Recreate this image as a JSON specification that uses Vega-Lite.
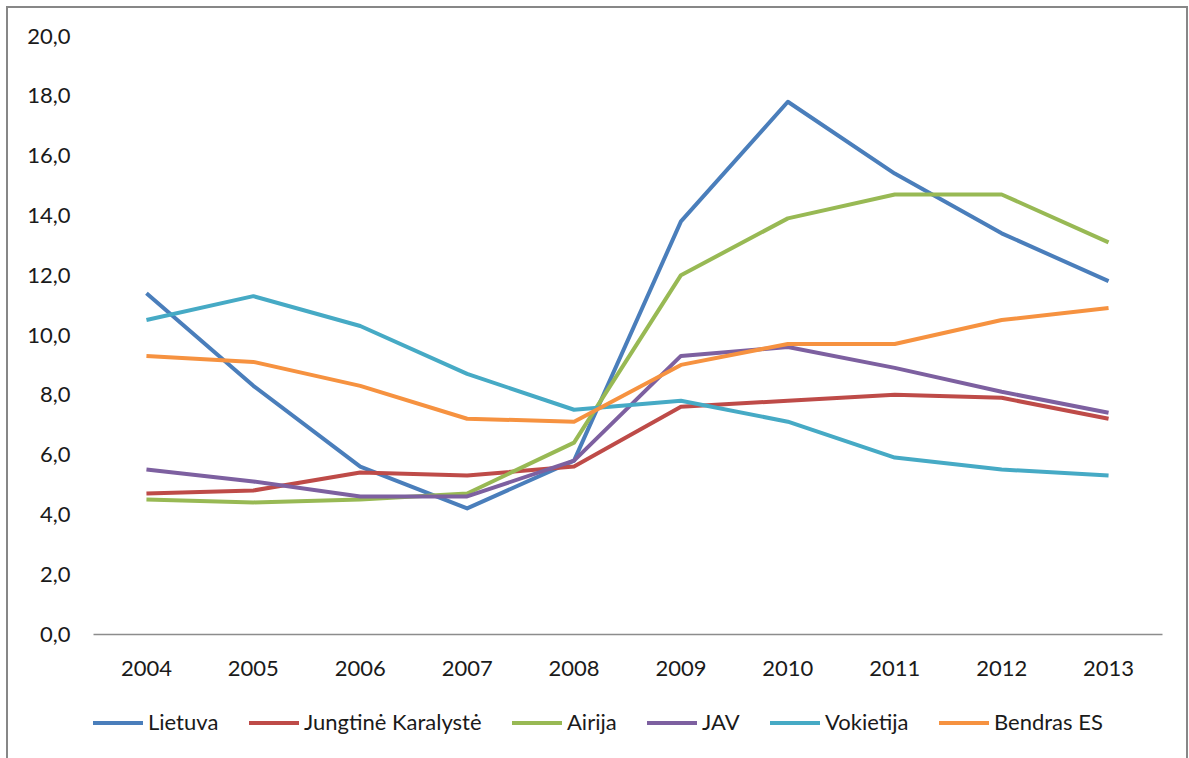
{
  "$schema": "https://vega.github.io/schema/vega-lite/v6.json",
  "width": 1180,
  "height": 760,
  "autosize": {"type": "none"},
  "padding": {"left": 7, "top": 7, "right": 2, "bottom": 0},
  "background": "white",
  "config": {
    "view": {"stroke": "#878787", "strokeWidth": 2},
    "font": "Lato"
  },
  "data": {
    "values": [
      {"metai": "2004", "salis": "Lietuva", "v": 11.4},
      {"metai": "2005", "salis": "Lietuva", "v": 8.3},
      {"metai": "2006", "salis": "Lietuva", "v": 5.6},
      {"metai": "2007", "salis": "Lietuva", "v": 4.2},
      {"metai": "2008", "salis": "Lietuva", "v": 5.8},
      {"metai": "2009", "salis": "Lietuva", "v": 13.8},
      {"metai": "2010", "salis": "Lietuva", "v": 17.8},
      {"metai": "2011", "salis": "Lietuva", "v": 15.4},
      {"metai": "2012", "salis": "Lietuva", "v": 13.4},
      {"metai": "2013", "salis": "Lietuva", "v": 11.8},
      {"metai": "2004", "salis": "Jungtinė Karalystė", "v": 4.7},
      {"metai": "2005", "salis": "Jungtinė Karalystė", "v": 4.8},
      {"metai": "2006", "salis": "Jungtinė Karalystė", "v": 5.4},
      {"metai": "2007", "salis": "Jungtinė Karalystė", "v": 5.3},
      {"metai": "2008", "salis": "Jungtinė Karalystė", "v": 5.6},
      {"metai": "2009", "salis": "Jungtinė Karalystė", "v": 7.6},
      {"metai": "2010", "salis": "Jungtinė Karalystė", "v": 7.8},
      {"metai": "2011", "salis": "Jungtinė Karalystė", "v": 8.0},
      {"metai": "2012", "salis": "Jungtinė Karalystė", "v": 7.9},
      {"metai": "2013", "salis": "Jungtinė Karalystė", "v": 7.2},
      {"metai": "2004", "salis": "Airija", "v": 4.5},
      {"metai": "2005", "salis": "Airija", "v": 4.4},
      {"metai": "2006", "salis": "Airija", "v": 4.5},
      {"metai": "2007", "salis": "Airija", "v": 4.7},
      {"metai": "2008", "salis": "Airija", "v": 6.4},
      {"metai": "2009", "salis": "Airija", "v": 12.0},
      {"metai": "2010", "salis": "Airija", "v": 13.9},
      {"metai": "2011", "salis": "Airija", "v": 14.7},
      {"metai": "2012", "salis": "Airija", "v": 14.7},
      {"metai": "2013", "salis": "Airija", "v": 13.1},
      {"metai": "2004", "salis": "JAV", "v": 5.5},
      {"metai": "2005", "salis": "JAV", "v": 5.1},
      {"metai": "2006", "salis": "JAV", "v": 4.6},
      {"metai": "2007", "salis": "JAV", "v": 4.6},
      {"metai": "2008", "salis": "JAV", "v": 5.8},
      {"metai": "2009", "salis": "JAV", "v": 9.3},
      {"metai": "2010", "salis": "JAV", "v": 9.6},
      {"metai": "2011", "salis": "JAV", "v": 8.9},
      {"metai": "2012", "salis": "JAV", "v": 8.1},
      {"metai": "2013", "salis": "JAV", "v": 7.4},
      {"metai": "2004", "salis": "Vokietija", "v": 10.5},
      {"metai": "2005", "salis": "Vokietija", "v": 11.3},
      {"metai": "2006", "salis": "Vokietija", "v": 10.3},
      {"metai": "2007", "salis": "Vokietija", "v": 8.7},
      {"metai": "2008", "salis": "Vokietija", "v": 7.5},
      {"metai": "2009", "salis": "Vokietija", "v": 7.8},
      {"metai": "2010", "salis": "Vokietija", "v": 7.1},
      {"metai": "2011", "salis": "Vokietija", "v": 5.9},
      {"metai": "2012", "salis": "Vokietija", "v": 5.5},
      {"metai": "2013", "salis": "Vokietija", "v": 5.3},
      {"metai": "2004", "salis": "Bendras ES", "v": 9.3},
      {"metai": "2005", "salis": "Bendras ES", "v": 9.1},
      {"metai": "2006", "salis": "Bendras ES", "v": 8.3},
      {"metai": "2007", "salis": "Bendras ES", "v": 7.2},
      {"metai": "2008", "salis": "Bendras ES", "v": 7.1},
      {"metai": "2009", "salis": "Bendras ES", "v": 9.0},
      {"metai": "2010", "salis": "Bendras ES", "v": 9.7},
      {"metai": "2011", "salis": "Bendras ES", "v": 9.7},
      {"metai": "2012", "salis": "Bendras ES", "v": 10.5},
      {"metai": "2013", "salis": "Bendras ES", "v": 10.9}
    ]
  },
  "mark": {"type": "line", "strokeWidth": 4, "strokeJoin": "round"},
  "encoding": {
    "x": {
      "field": "metai",
      "type": "ordinal",
      "bandPosition": 0.5,
      "scale": {"type": "band", "range": [86, 1155], "paddingInner": 0, "paddingOuter": 0},
      "axis": {
        "title": null,
        "labelAngle": 0,
        "ticks": false,
        "tickSize": 0,
        "grid": false,
        "domain": true,
        "domainColor": "#8c8c8c",
        "domainWidth": 1.5,
        "offset": -133,
        "labelPadding": 34,
        "labelBaseline": "middle",
        "labelFont": "Lato",
        "labelFontSize": 22,
        "labelColor": "#1a1a1a"
      }
    },
    "y": {
      "field": "v",
      "type": "quantitative",
      "scale": {"domain": [0, 20], "range": [627, 29]},
      "axis": {
        "title": null,
        "values": [0, 2, 4, 6, 8, 10, 12, 14, 16, 18, 20],
        "labelExpr": "replace(format(datum.value, '.1f'), '.', ',')",
        "ticks": false,
        "tickSize": 0,
        "domain": false,
        "grid": false,
        "offset": -63,
        "labelPadding": 0,
        "labelFont": "Lato",
        "labelFontSize": 22,
        "labelColor": "#1a1a1a"
      }
    },
    "color": {
      "field": "salis",
      "type": "nominal",
      "sort": ["Lietuva", "Jungtinė Karalystė", "Airija", "JAV", "Vokietija", "Bendras ES"],
      "scale": {
        "domain": ["Lietuva", "Jungtinė Karalystė", "Airija", "JAV", "Vokietija", "Bendras ES"],
        "range": ["#4A7EBB", "#BE4B48", "#98B954", "#7D60A0", "#46AAC5", "#F69240"]
      },
      "legend": {
        "title": null,
        "orient": "none",
        "direction": "horizontal",
        "legendX": 84,
        "legendY": 689,
        "symbolType": "stroke",
        "symbolStrokeWidth": 4,
        "symbolSize": 2500,
        "labelFont": "Lato",
        "labelFontSize": 22,
        "labelColor": "#1a1a1a",
        "labelLimit": 0,
        "labelOffset": 3,
        "columnPadding": 22
      }
    }
  }
}
